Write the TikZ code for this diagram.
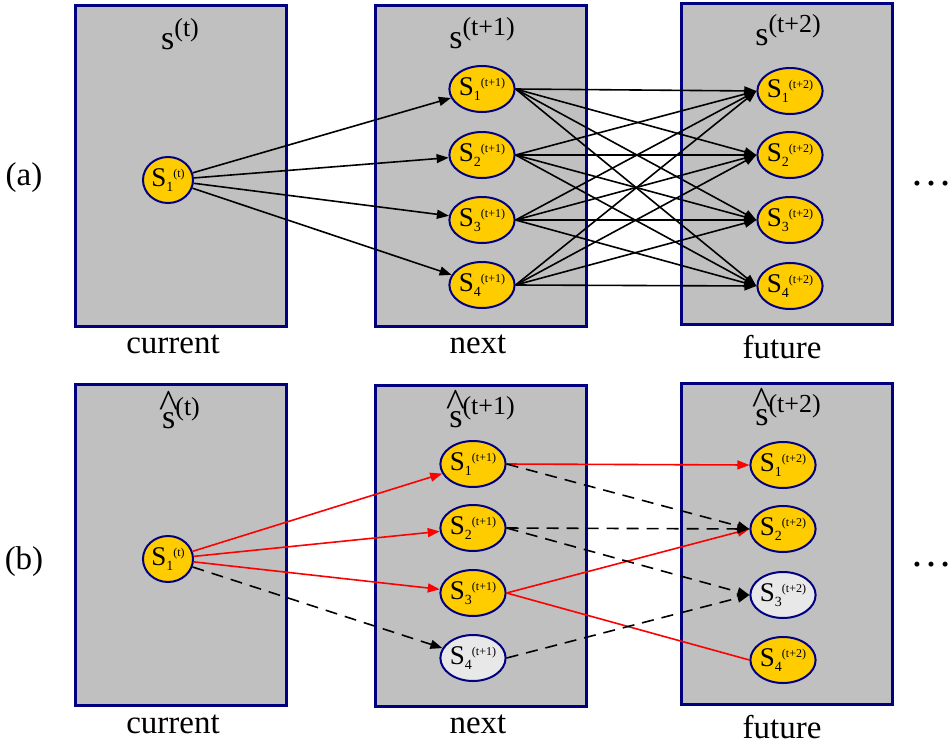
\documentclass[tikz,border=0pt]{standalone}
\usepackage{fontspec}
\setmainfont{Liberation Serif}
\usetikzlibrary{shapes.geometric,arrows.meta}

\definecolor{panelblue}{RGB}{0,0,128}
\definecolor{panelgray}{RGB}{192,192,192}
\definecolor{stateyellow}{RGB}{255,204,0}
\definecolor{stategray}{RGB}{232,232,232}

% state label S_i^(...)
\newcommand{\stlabel}[2]{S\raisebox{-5pt}{\fontsize{14}{14}\selectfont #1}\raisebox{9pt}{\fontsize{12}{12}\selectfont (#2)}}
% panel title s^(...)
\newcommand{\ptitle}[2]{{\fontsize{34}{34}\selectfont #1}\raisebox{12.5pt}{\fontsize{26}{26}\selectfont (#2)}}
\newcommand{\shat}{\ooalign{s\cr\hidewidth\raisebox{11pt}{\fontsize{40}{40}\selectfont\textasciicircum}\hidewidth\cr}}

\begin{document}
\begin{tikzpicture}[x=1pt, y=-1pt, font=\fontsize{33}{36}\selectfont,
    panel/.style={draw=panelblue, line width=3pt, fill=panelgray, minimum width=211pt, minimum height=321pt, inner sep=0pt},
    state/.style={ellipse, draw=panelblue, line width=2pt, fill=stateyellow, minimum width=50pt, minimum height=46pt, inner sep=0pt, font=\fontsize{27}{27}\selectfont},
    dropped/.style={state, fill=stategray},
    link/.style={line width=1.6pt, -{Triangle[length=12pt, width=9pt]}},
    kept/.style={link, red},
    pruned/.style={link, dash pattern=on 12pt off 8pt}]

    \useasboundingbox (0,0) rectangle (951,745);

    % Panels
    \node[panel] (pa1) at (180.5,165.5) {};
    \node[panel] (pa2) at (481,165.5) {};
    \node[panel] (pa3) at (787,164) {};
    \node[panel] (pb1) at (180.5,545) {};
    \node[panel] (pb2) at (481,545.5) {};
    \node[panel] (pb3) at (787,543.5) {};

    % Panel titles
    \node[anchor=base] (ta1) at (180,49) {\ptitle{s}{t}};
    \node[anchor=base] (ta2) at (482,48) {\ptitle{s}{t+1}};
    \node[anchor=base] (ta3) at (788,45) {\ptitle{s}{t+2}};
    \node[anchor=base] (tb1) at (181,428) {\ptitle{\shat}{t}};
    \node[anchor=base] (tb2) at (482,427) {\ptitle{\shat}{t+1}};
    \node[anchor=base] (tb3) at (788,425) {\ptitle{\shat}{t+2}};

    % Captions under the panels
    \node[anchor=base] (cura) at (173,353) {current};
    \node[anchor=base] (nexta) at (478,353) {next};
    \node[anchor=base] (futa) at (782,358) {future};
    \node[anchor=base] (curb) at (173,733) {current};
    \node[anchor=base] (nextb) at (478,733) {next};
    \node[anchor=base] (futb) at (782,738) {future};

    % Row labels and dots
    \node[anchor=base] (laba) at (24,185) {(a)};
    \node[anchor=base] (labb) at (24,569) {(b)};
    \node[anchor=base west, font=\fontsize{42}{42}\selectfont] (mora) at (907,185) {…};
    \node[anchor=base west, font=\fontsize{42}{42}\selectfont] (morb) at (907,566) {…};

    % (a) full set of states
    \node[state] (sa) at (168,180) {\stlabel{1}{t}};
    \foreach \i/\y in {1/89, 2/155, 3/220, 4/285} {
        \node[state] (na\i) at (482,\y) {\stlabel{\i}{t+1}};
    }
    \foreach \i/\y in {1/91, 2/155, 3/220, 4/286} {
        \node[state] (fa\i) at (790,\y) {\stlabel{\i}{t+2}};
    }

    % (b) pruned set of states
    \node[state] (sb) at (168,559) {\stlabel{1}{t}};
    \node[state] (nb1) at (473,464) {\stlabel{1}{t+1}};
    \node[state] (nb2) at (473,528) {\stlabel{2}{t+1}};
    \node[state] (nb3) at (473,593) {\stlabel{3}{t+1}};
    \node[dropped] (nb4) at (473,658) {\stlabel{4}{t+1}};
    \node[state] (fb1) at (783,465) {\stlabel{1}{t+2}};
    \node[state] (fb2) at (783,529) {\stlabel{2}{t+2}};
    \node[dropped] (fb3) at (783,595) {\stlabel{3}{t+2}};
    \node[state] (fb4) at (783,660) {\stlabel{4}{t+2}};

    % (a) transitions
    \foreach \i in {1,...,4} {
        \draw[link] (sa) -- (na\i);
        \foreach \j in {1,...,4} {
            \draw[link] (na\i.east) -- (fa\j.west);
        }
    }

    % (b) kept transitions
    \foreach \i in {1,2,3} {
        \draw[kept] (sb) -- (nb\i);
    }
    \draw[kept] (nb1.east) -- (fb1.west);
    \draw[kept] (nb3.east) -- (fb2.west);
    \draw[line width=1.6pt, red] (nb3.east) -- (fb4.west);

    % (b) dropped transitions
    \draw[pruned] (sb) -- (nb4);
    \draw[pruned] (nb1.east) -- (fb2.west);
    \draw[pruned] (nb2.east) -- (fb2.west);
    \draw[pruned] (nb2.east) -- (fb3.west);
    \draw[pruned] (nb4.east) -- (fb3.west);

\end{tikzpicture}
\end{document}
